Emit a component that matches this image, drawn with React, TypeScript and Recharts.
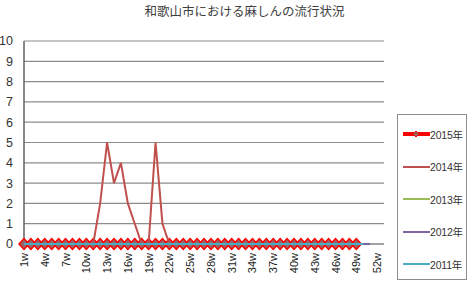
import React from 'react';
import { LineChart, Line, XAxis, YAxis, CartesianGrid } from 'recharts';

const weeks = [
  '1w', '2w', '3w', '4w', '5w', '6w', '7w', '8w', '9w', '10w',
  '11w', '12w', '13w', '14w', '15w', '16w', '17w', '18w', '19w', '20w',
  '21w', '22w', '23w', '24w', '25w', '26w', '27w', '28w', '29w', '30w',
  '31w', '32w', '33w', '34w', '35w', '36w', '37w', '38w', '39w', '40w',
  '41w', '42w', '43w', '44w', '45w', '46w', '47w', '48w', '49w', '50w',
  '51w', '52w', '53w',
];

const yTicks = [0, 1, 2, 3, 4, 5, 6, 7, 8, 9, 10];

// weekly case counts per year
const cases2015 = [
  0, 0, 0, 0, 0, 0, 0, 0, 0, 0,
  0, 0, 0, 0, 0, 0, 0, 0, 0, 0,
  0, 0, 0, 0, 0, 0, 0, 0, 0, 0,
  0, 0, 0, 0, 0, 0, 0, 0, 0, 0,
  0, 0, 0, 0, 0, 0, 0, 0, 0,
];
const cases2014 = [
  0, 0, 0, 0, 0, 0, 0, 0, 0, 0,
  0, 2, 5, 3, 4, 2, 1, 0, 0, 5,
  1, 0, 0, 0, 0, 0, 0, 0, 0, 0,
  0, 0, 0, 0, 0, 0, 0, 0, 0, 0,
  0, 0, 0, 0, 0, 0, 0, 0, 0, 0,
];
const cases2013 = [
  0, 0, 0, 0, 0, 0, 0, 0, 0, 0,
  0, 0, 0, 0, 0, 0, 0, 0, 0, 0,
  0, 0, 0, 0, 0, 0, 0, 0, 0, 0,
  0, 0, 0, 0, 0, 0, 0, 0, 0, 0,
  0, 0, 0, 0, 0, 0, 0, 0, 0, 0,
];
const cases2012 = [
  0, 0, 0, 0, 0, 0, 0, 0, 0, 0,
  0, 0, 0, 0, 0, 0, 0, 0, 0, 0,
  0, 0, 0, 0, 0, 0, 0, 0, 0, 0,
  0, 0, 0, 0, 0, 0, 0, 0, 0, 0,
  0, 0, 0, 0, 0, 0, 0, 0, 0, 0,
  0,
];
const cases2011 = [
  0, 0, 0, 0, 0, 0, 0, 0, 0, 0,
  0, 0, 0, 0, 0, 0, 0, 0, 0, 0,
  0, 0, 0, 0, 0, 0, 0, 0, 0, 0,
  0, 0, 0, 0, 0, 0, 0, 0, 0, 0,
  0, 0, 0, 0, 0, 0, 0, 0, 0, 0,
];

const series = [
  { key: 'y2015', name: '2015年', values: cases2015, color: '#FF0000', width: 3.5, marker: true },
  { key: 'y2014', name: '2014年', values: cases2014, color: '#C0504D', width: 2, marker: false },
  { key: 'y2013', name: '2013年', values: cases2013, color: '#9BBB59', width: 2, marker: false },
  { key: 'y2012', name: '2012年', values: cases2012, color: '#8064A2', width: 2, marker: false },
  { key: 'y2011', name: '2011年', values: cases2011, color: '#4BACC6', width: 2, marker: false },
];

const data = weeks.map((w, i) => {
  const row: Record<string, any> = { week: w };
  series.forEach((s) => {
    row[s.key] = i < s.values.length ? s.values[i] : null;
  });
  return row;
});

const FONT = '"Liberation Sans", Arial, "Noto Sans CJK JP", sans-serif';

const Diamond = (props: any) => {
  const { cx, cy } = props;
  if (cx == null || cy == null) return null;
  return (
    <polygon
      points={`${cx - 5},${cy} ${cx},${cy - 5.5} ${cx + 5},${cy} ${cx},${cy + 5.5}`}
      fill="#9a6464"
      stroke="#FF0000"
      strokeWidth={1.5}
    />
  );
};

const WeekTick = ({ x, y, payload }: any) => (
  <text
    x={x}
    y={y}
    dy={4}
    transform={`rotate(-90 ${x} ${y})`}
    textAnchor="end"
    fontSize={11}
    fontFamily={FONT}
    fill="#222"
  >
    {payload.value}
  </text>
);

const App = () => {
  return (
    <div style={{ position: 'absolute', left: 0, top: 0, width: 469, height: 281, background: '#fff', fontFamily: FONT }}>
      <div
        style={{
          position: 'absolute',
          left: 0,
          top: 1,
          width: 489,
          textAlign: 'center',
          fontSize: 12.5,
          color: '#404040',
          fontFamily: '"Noto Sans CJK JP", sans-serif',
        }}
      >
        和歌山市における麻しんの流行状況
      </div>
      <LineChart width={469} height={281} data={data} margin={{ top: 41, right: 85, bottom: 0, left: 0 }}>
        <CartesianGrid vertical={false} stroke="#8c8c8c" strokeWidth={1.2} />
        <XAxis
          dataKey="week"
          interval={2}
          height={37}
          tickSize={0}
          tickMargin={9}
          tick={<WeekTick />}
          axisLine={{ stroke: '#808080' }}
        />
        <YAxis
          domain={[0, 10]}
          ticks={yTicks}
          width={24}
          tickSize={0}
          tickMargin={11}
          interval={0}
          axisLine={{ stroke: '#606060', strokeWidth: 1.5 }}
          tick={{ fontSize: 12.5, fill: '#333', fontFamily: FONT }}
        />
        <YAxis
          yAxisId="r"
          orientation="right"
          domain={[0, 10]}
          width={0}
          tick={false}
          tickLine={false}
          axisLine={{ stroke: '#8c8c8c', strokeWidth: 1.2 }}
        />
        {series.map((s, i) => (
          <Line
            key={s.key}
            type="linear"
            dataKey={s.key}
            name={s.name}
            stroke={s.color}
            strokeWidth={s.width}
            dot={s.marker ? <Diamond /> : false}
            activeDot={false}
            isAnimationActive={false}
            {...(s.marker ? {} : { zIndex: 700 + i })}
          />
        ))}
      </LineChart>
      <div
        style={{
          position: 'absolute',
          left: 397,
          top: 114,
          width: 70,
          height: 166,
          border: '1px solid #8c8c8c',
          boxSizing: 'border-box',
          background: '#fff',
        }}
      >
        {series.map((s, i) => (
          <div
            key={s.key}
            style={{
              position: 'absolute',
              left: 5,
              top: 12 + i * 32.6,
              height: 14,
              display: 'flex',
              alignItems: 'center',
              fontSize: 10.5,
              color: '#333',
              whiteSpace: 'nowrap',
              letterSpacing: -0.2,
            }}
          >
            <svg width={27} height={10} style={{ display: 'block', flex: 'none' }}>
              <line x1={0} y1={5} x2={27} y2={5} stroke={s.color} strokeWidth={s.marker ? 4 : 2} />
              {s.marker && <polygon points="10,5 13,2 16,5 13,8" fill="#9a6464" stroke="#FF0000" strokeWidth={1} />}
            </svg>
            <span>{s.name}</span>
          </div>
        ))}
      </div>
    </div>
  );
};

export default App;
